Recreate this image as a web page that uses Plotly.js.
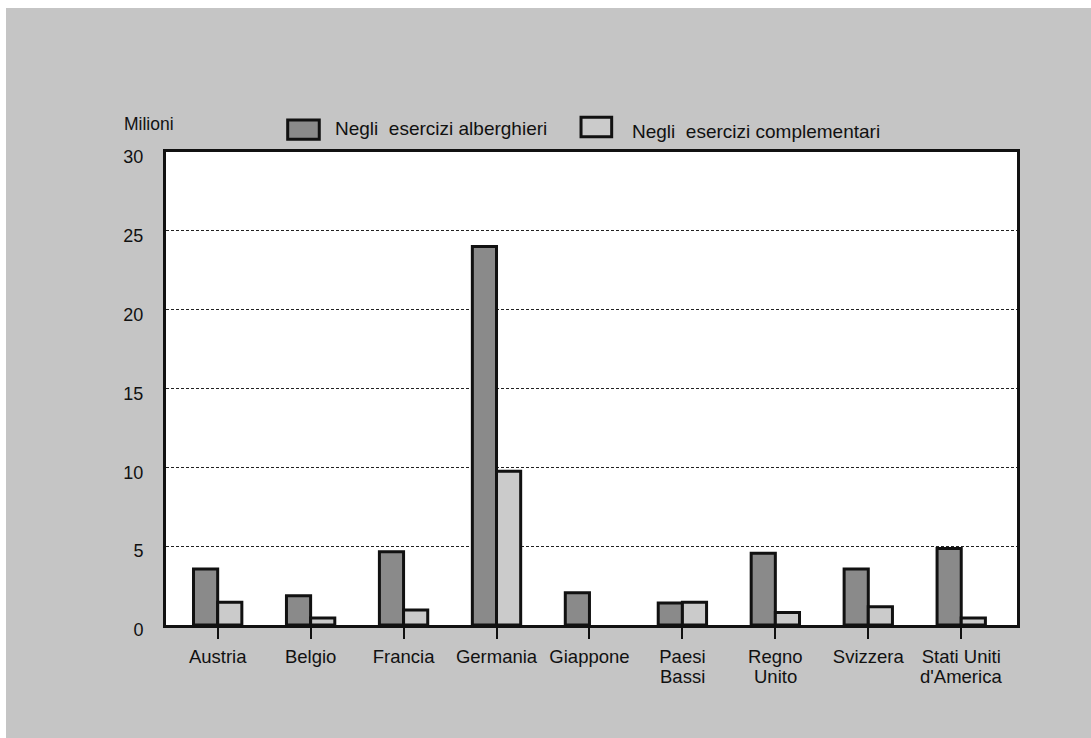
<!DOCTYPE html>
<html>
<head>
<meta charset="utf-8">
<script src="https://cdn.plot.ly/plotly-3.0.1.min.js"></script>
<style>
  html, body { margin: 0; padding: 0; background: #ffffff; }
  #chart { position: absolute; left: 6px; top: 8px; width: 1085px; height: 730px; }
</style>
</head>
<body>
<div id="chart"></div>
<script>
const categories = ["Austria", "Belgio", "Francia", "Germania", "Giappone", "Paesi<br>Bassi", "Regno<br>Unito", "Svizzera", "Stati Uniti<br>d'America"];
const alberghieri = [3.55, 1.85, 4.65, 24.0, 2.05, 1.4, 4.55, 3.55, 4.85];
const complementari = [1.45, 0.45, 0.95, 9.75, null, 1.45, 0.8, 1.15, 0.45];
const seriesNames = ["Negli\u00a0\u00a0esercizi alberghieri", "Negli\u00a0\u00a0esercizi complementari"];
const yTicks = [0, 5, 10, 15, 20, 25, 30];
const unitLabel = "Milioni";

const idx = categories.map((c, i) => i);
const firstLines = categories.map(c => c.split("<br>")[0]);
const secondLines = categories.map(c => c.split("<br>")[1] || "");
const darkFill = "#8a8a8a";
const lightFill = "#cbcbcb";
const font = "Liberation Sans, Arial, Helvetica, sans-serif";
const ink = "#111";

const traces = [
  {
    type: "bar", x: idx, y: alberghieri, name: seriesNames[0],
    marker: { color: darkFill, line: { color: ink, width: 3 } }
  },
  {
    type: "bar", x: idx, y: complementari, name: seriesNames[1],
    marker: { color: lightFill, line: { color: ink, width: 3 } }
  }
];

const secondLineAnns = idx.filter(i => secondLines[i]).map(i => ({
  xref: "x", yref: "paper", x: i, y: -0.109, xanchor: "center", yanchor: "middle",
  text: secondLines[i], showarrow: false, font: { family: font, size: 18.5, color: ink }
}));

const layout = {
  width: 1085, height: 730,
  margin: { l: 160, r: 74, t: 144, b: 113 },
  paper_bgcolor: "#c5c5c5",
  plot_bgcolor: "#ffffff",
  showlegend: false,
  barmode: "group",
  bargap: 0.48,
  bargroupgap: 0,
  font: { family: font, color: ink, size: 15 },
  xaxis: {
    type: "linear",
    range: [-0.556, 8.6],
    tickvals: idx,
    ticktext: firstLines,
    ticks: "outside", ticklen: 11, tickwidth: 2, tickcolor: ink,
    ticklabelstandoff: 2,
    showgrid: false, zeroline: false,
    showline: true, linewidth: 3, linecolor: ink, mirror: true,
    tickfont: { family: font, size: 18.5, color: ink },
    fixedrange: true
  },
  yaxis: {
    range: [0, 30],
    tickvals: yTicks,
    ticktext: yTicks.map(String),
    ticks: "", ticklabelstandoff: 16, ticklabelshift: 5,
    showgrid: true, gridcolor: "#222", gridwidth: 1.2, griddash: "3px,2px",
    zeroline: false,
    showline: true, linewidth: 3, linecolor: ink, mirror: true,
    tickfont: { family: font, size: 18, color: ink },
    fixedrange: true
  },
  shapes: [
    { type: "rect", xref: "paper", yref: "paper", x0: 0.1430, x1: 0.1801, y0: 1.0268, y1: 1.0677,
      fillcolor: darkFill, line: { color: ink, width: 3 } },
    { type: "rect", xref: "paper", yref: "paper", x0: 0.4877, x1: 0.5237, y0: 1.0323, y1: 1.0734,
      fillcolor: lightFill, line: { color: ink, width: 3 } }
  ],
  annotations: [
    { xref: "paper", yref: "paper", x: 0.1962, y: 1.0507, xanchor: "left", yanchor: "middle",
      text: seriesNames[0], showarrow: false, font: { family: font, size: 19, color: ink } },
    { xref: "paper", yref: "paper", x: 0.5452, y: 1.0429, xanchor: "left", yanchor: "middle",
      text: seriesNames[1], showarrow: false, font: { family: font, size: 19, color: ink } },
    { xref: "paper", yref: "paper", x: -0.0521, y: 1.0586, xanchor: "left", yanchor: "middle",
      text: unitLabel, showarrow: false, font: { family: font, size: 17.5, color: ink } }
  ].concat(secondLineAnns)
};

Plotly.newPlot("chart", traces, layout, { displayModeBar: false, staticPlot: true });
</script>
</body>
</html>
